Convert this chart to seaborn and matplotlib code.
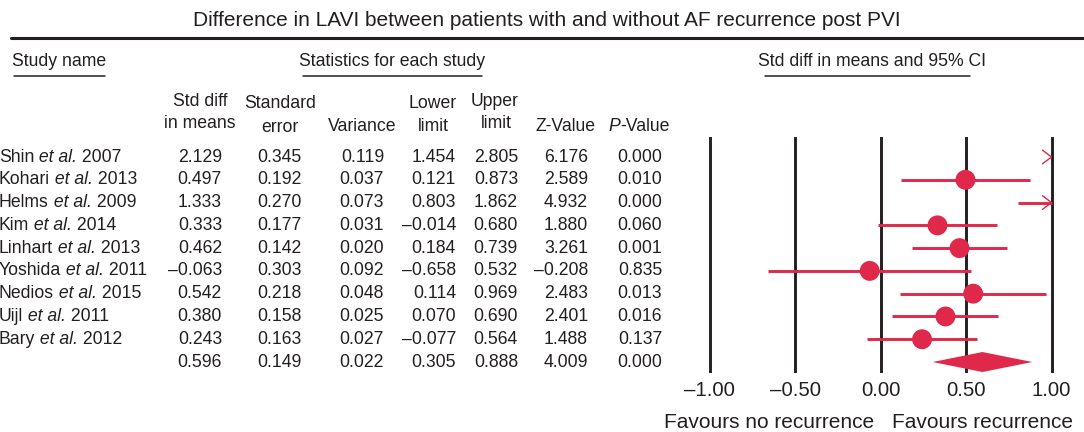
import numpy as np
import pandas as pd
import matplotlib
matplotlib.use("Agg")
import matplotlib.pyplot as plt
import matplotlib.transforms as mtransforms
from matplotlib.lines import Line2D
import seaborn as sns

# ---------------- data ----------------
authors = ["Shin", "Kohari", "Helms", "Kim", "Linhart", "Yoshida", "Nedios", "Uijl", "Bary"]
years = ["2007", "2013", "2009", "2014", "2013", "2011", "2015", "2011", "2012"]
std_diff = [2.129, 0.497, 1.333, 0.333, 0.462, -0.063, 0.542, 0.380, 0.243]
std_err = [0.345, 0.192, 0.270, 0.177, 0.142, 0.303, 0.218, 0.158, 0.163]
variance = [0.119, 0.037, 0.073, 0.031, 0.020, 0.092, 0.048, 0.025, 0.027]
lower = [1.454, 0.121, 0.803, -0.014, 0.184, -0.658, 0.114, 0.070, -0.077]
upper = [2.805, 0.873, 1.862, 0.680, 0.739, 0.532, 0.969, 0.690, 0.564]
z_value = [6.176, 2.589, 4.932, 1.880, 3.261, -0.208, 2.483, 2.401, 1.488]
p_value = [0.000, 0.010, 0.000, 0.060, 0.001, 0.835, 0.013, 0.016, 0.137]

pooled_diff = 0.596
pooled_se = 0.149
pooled_var = 0.022
pooled_lower = 0.305
pooled_upper = 0.888
pooled_z = 4.009
pooled_p = 0.000

x_ticks = [-1.0, -0.5, 0.0, 0.5, 1.0]
x_tick_labels = ["–1.00", "–0.50", "0.00", "0.50", "1.00"]

title = "Difference in LAVI between patients with and without AF recurrence post PVI"

# ---------------- style ----------------
sns.set_theme(style="white")
plt.rcParams["font.family"] = ["Liberation Sans", "DejaVu Sans"]

TXT = "#231F20"
RED = "#E0284A"
W, H = 1084, 432
FS = 12.7

def fx(px):
    return px / W

def fy(py):
    return 1 - py / H

fig = plt.figure(figsize=(W / 100, H / 100), dpi=100)
fig.patch.set_facecolor("white")

# forest axes
ax_l, ax_r, ax_t, ax_b = 690, 1080, 137, 373
ax = fig.add_axes([fx(ax_l), fy(ax_b), (ax_r - ax_l) / W, (ax_b - ax_t) / H])
ax.set_facecolor("none")
x0_px, ppu = 880.5, 171.0
row0_px, row_h = 157.0, 22.78
ax.set_xlim((ax_l - x0_px) / ppu, (ax_r - x0_px) / ppu)
ax.set_ylim((ax_b - row0_px) / row_h, (ax_t - row0_px) / row_h)
for s in ax.spines.values():
    s.set_visible(False)
ax.set_yticks([])
ax.set_xticks(x_ticks)
ax.set_xticklabels(x_tick_labels, fontsize=14.7, color=TXT)
ax.tick_params(axis="x", length=0, pad=5.5)
ax.grid(False)

for t in x_ticks:
    ax.axvline(t, color=TXT, lw=2.1, zorder=1)

n = len(authors)
rows = np.arange(n)
xmin, xmax = x_ticks[0], x_ticks[-1]

# CI lines and arrows
for r, lo, hi in zip(rows, lower, upper):
    if lo < xmax:
        ax.plot([max(lo, xmin), min(hi, xmax)], [r, r], color=RED, lw=2.1,
                solid_capstyle="butt", zorder=2)
    if hi > xmax:
        dx = 9 / ppu
        ax.plot([xmax - dx, xmax, xmax - dx], [r - 0.3, r, r + 0.3], color=RED,
                lw=1.0, zorder=2)

df = pd.DataFrame({"est": std_diff, "row": rows})
df_vis = df[(df["est"] >= xmin) & (df["est"] <= xmax)]
sns.scatterplot(data=df_vis, x="est", y="row", s=205, color=RED, edgecolor="none",
                ax=ax, legend=False, zorder=3)
ax.set_xlabel("")
ax.set_ylabel("")

# pooled diamond
pr = n
dh = 10 / row_h
ax.fill([pooled_lower, pooled_diff, pooled_upper, pooled_diff],
        [pr, pr - dh, pr, pr + dh], color=RED, lw=0, zorder=3)

# ---------------- table ----------------
trans = mtransforms.blended_transform_factory(fig.transFigure, ax.transData)

def fmt(v):
    return f"{v:.3f}".replace("-", "–")

col_right = [222, 302, 384, 456, 518, 588, 662]
cols = [std_diff, std_err, variance, lower, upper, z_value, p_value]
pooled_vals = [pooled_diff, pooled_se, pooled_var, pooled_lower, pooled_upper, pooled_z, pooled_p]

for r in range(n):
    t1 = ax.text(fx(-1), r, authors[r], transform=trans, ha="left", va="center",
                 fontsize=FS, color=TXT)
    t2 = ax.annotate(" et al.", xy=(1, 0), xycoords=t1, ha="left", va="bottom",
                     fontsize=FS, color=TXT, style="italic")
    ax.annotate(" " + years[r], xy=(1, 0), xycoords=t2, ha="left", va="bottom",
                fontsize=FS, color=TXT)
    for xr, col in zip(col_right, cols):
        ax.text(fx(xr), r, fmt(col[r]), transform=trans, ha="right", va="center",
                fontsize=FS, color=TXT)
for xr, v in zip(col_right, pooled_vals):
    ax.text(fx(xr), n, fmt(v), transform=trans, ha="right", va="center",
            fontsize=FS, color=TXT)

# column headers
hdr = [
    ("Std diff", 200, 101), ("in means", 200, 124),
    ("Standard", 280, 104), ("error", 280, 128),
    ("Variance", 362, 126),
    ("Lower", 433, 103), ("limit", 433, 126),
    ("Upper", 495, 101), ("limit", 496, 124),
    ("Z-Value", 565, 127),
]
for s, x, y in hdr:
    fig.text(fx(x), fy(y), s, ha="center", va="center", fontsize=FS, color=TXT)
fig.text(fx(620), fy(127), "P", ha="right", va="center", fontsize=FS, color=TXT,
         style="italic")
fig.text(fx(620), fy(127), "-Value", ha="left", va="center", fontsize=FS, color=TXT)

# group headers
fig.text(fx(12), fy(62), "Study name", ha="left", va="center", fontsize=FS, color=TXT)
fig.text(fx(392), fy(62), "Statistics for each study", ha="center", va="center",
         fontsize=FS, color=TXT)
fig.text(fx(872), fy(62), "Std diff in means and 95% CI", ha="center", va="center",
         fontsize=FS, color=TXT)
for a, b in [(14, 105), (303, 482), (765, 970)]:
    fig.add_artist(Line2D([fx(a), fx(b)], [fy(76), fy(76)], color=TXT, lw=1.1))

# title and rule
fig.text(fx(547), fy(21), title, ha="center", va="center", fontsize=15, color=TXT)
fig.add_artist(Line2D([fx(11), fx(1084)], [fy(38), fy(38)], color=TXT, lw=2.2))

# favours labels
fig.text(fx(769), fy(422), "Favours no recurrence", ha="center", va="center",
         fontsize=15, color=TXT)
fig.text(fx(982), fy(422), "Favours recurrence", ha="center", va="center",
         fontsize=15, color=TXT)

fig.savefig("out.png", dpi=100, facecolor="white")
